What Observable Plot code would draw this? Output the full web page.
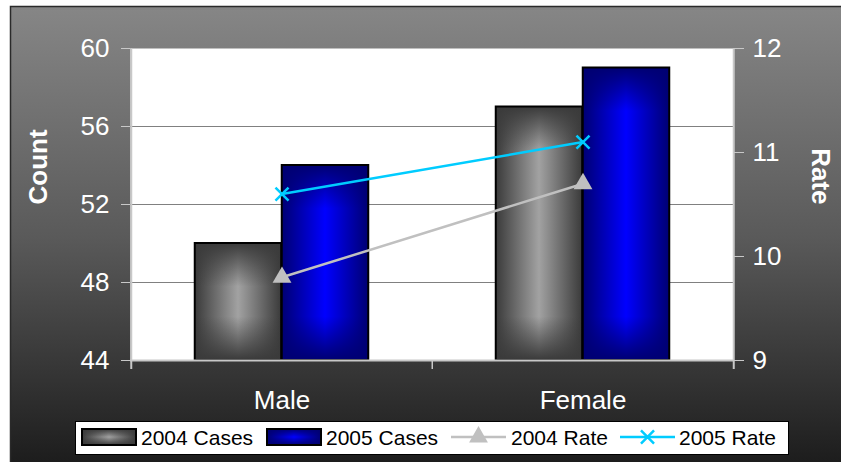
<!DOCTYPE html>
<html><head><meta charset="utf-8">
<script src="https://cdn.jsdelivr.net/npm/d3@7"></script>
<script src="https://cdn.jsdelivr.net/npm/@observablehq/plot@0.6"></script>
<style>
html,body{margin:0;padding:0;background:#fff;}
#wrap{position:relative;width:841px;height:462px;overflow:hidden;font-family:"Liberation Sans",Arial,sans-serif;}
#legend{position:absolute;left:75px;top:421px;width:714px;height:34px;background:#fff;border:1px solid #000;box-sizing:border-box;}
#legend svg{position:absolute;left:0;top:0;}
</style></head><body>
<svg id="defs" width="0" height="0" style="position:absolute"><defs></defs></svg>
<div id="wrap"><div id="chart"></div><div id="legend"></div></div>
<script>
// ---- data ----
const categories = ["Male", "Female"];
const cases2004 = [50, 57];
const cases2005 = [54, 59];
const rate2004 = [9.8, 10.7];
const rate2005 = [10.6, 11.1];
const countTicks = [44, 48, 52, 56, 60];
const rateTicks = [9, 10, 11, 12];
const seriesNames = ["2004 Cases", "2005 Cases", "2004 Rate", "2005 Rate"];
const axisTitles = ["Count", "Rate"];

// ---- layout / style ----
const W = 841, H = 462, mL = 130, mR = 108, mT = 48, mB = 102;
const band = (W - mL - mR) / categories.length;
const barW = 87;
const outer = (band - 2 * barW) / 2;
const font = '"Liberation Sans", Arial, sans-serif';
const axisGray = "#c8c8c8";
const col04 = {edge: "#3a3a3a", center: "#a2a2a2"};
const col05 = {edge: "#000072", center: "#0000ff"};
const rateCol04 = "#c0c0c0", rateCol05 = "#00ccff";

const countDomain = [countTicks[0], countTicks[countTicks.length - 1]];
const rateDomain = [rateTicks[0], rateTicks[rateTicks.length - 1]];
const toCount = r => countDomain[0] + (r - rateDomain[0]) * (countDomain[1] - countDomain[0]) / (rateDomain[1] - rateDomain[0]);
const toRate = c => rateDomain[0] + (c - countDomain[0]) * (rateDomain[1] - rateDomain[0]) / (countDomain[1] - countDomain[0]);

const bars04 = categories.map((c, i) => ({cat: c, v: cases2004[i], id: "v04-" + i}));
const bars05 = categories.map((c, i) => ({cat: c, v: cases2005[i], id: "v05-" + i}));
const pts04 = categories.map((c, i) => ({cat: c, y: toCount(rate2004[i])}));
const pts05 = categories.map((c, i) => ({cat: c, y: toCount(rate2005[i])}));

const chart = Plot.plot({
  width: W, height: H,
  marginLeft: mL, marginRight: mR, marginTop: mT, marginBottom: mB,
  style: {fontFamily: font, background: "transparent", overflow: "visible"},
  x: {type: "band", domain: categories, padding: 0, label: null},
  y: {domain: countDomain, label: null},
  color: {type: "identity"},
  marks: [
    Plot.frame({fill: "url(#bg)", stroke: "#2a2a2a", strokeWidth: 1.5,
      insetLeft: -(mL - 10), insetTop: -(mT - 6), insetRight: -(mR + 3), insetBottom: -(mB + 3)}),
    Plot.frame({fill: "white", stroke: null}),
    Plot.ruleY(countTicks.slice(1, -1), {stroke: "#808080", strokeWidth: 1}),
    Plot.barY(bars04, {x: "cat", y1: countDomain[0], y2: "v", fill: "url(#h04)",
      insetLeft: outer, insetRight: band - outer - barW}),
    Plot.barY(bars04, {x: "cat", y1: countDomain[0], y2: "v", fill: d => `url(#${d.id})`,
      stroke: "black", strokeWidth: 2, insetLeft: outer, insetRight: band - outer - barW}),
    Plot.barY(bars05, {x: "cat", y1: countDomain[0], y2: "v", fill: "url(#h05)",
      insetLeft: outer + barW, insetRight: outer}),
    Plot.barY(bars05, {x: "cat", y1: countDomain[0], y2: "v", fill: d => `url(#${d.id})`,
      stroke: "black", strokeWidth: 2, insetLeft: outer + barW, insetRight: outer}),
    Plot.ruleY([countDomain[0]], {stroke: axisGray, strokeWidth: 2}),
    Plot.ruleX([categories[0]], {dx: -band / 2, stroke: axisGray, strokeWidth: 2, insetBottom: -9}),
    Plot.ruleX([categories[categories.length - 1]], {dx: band / 2, stroke: axisGray, strokeWidth: 2, insetBottom: -9}),
    Plot.ruleX(categories.slice(1), {dx: -band / 2, stroke: axisGray, strokeWidth: 1.5, insetTop: H - mT - mB, insetBottom: -9}),
    Plot.line(pts04, {x: "cat", y: "y", stroke: rateCol04, strokeWidth: 2.5}),
    Plot.dot(pts04, {x: "cat", y: "y", symbol: "triangle", fill: rateCol04, r: 7}),
    Plot.line(pts05, {x: "cat", y: "y", stroke: rateCol05, strokeWidth: 2.5}),
    Plot.dot(pts05, {x: "cat", y: "y", symbol: "times", stroke: rateCol05, strokeWidth: 2.5, r: 6}),
    Plot.axisY({anchor: "left", ticks: countTicks, tickSize: 9, tickPadding: 12, fontSize: 26,
      color: "white", stroke: axisGray, label: null}),
    Plot.axisY({anchor: "right", ticks: rateTicks.map(toCount), tickFormat: d => String(Math.round(toRate(d))),
      tickSize: 10, tickPadding: 9, fontSize: 26, color: "white", stroke: axisGray, label: null}),
    Plot.axisX({tickSize: 0, tickPadding: 30, fontSize: 26, color: "white", label: null}),
    Plot.text([axisTitles[0]], {text: d => d, frameAnchor: "left", dx: -92, rotate: -90,
      fill: "white", fontSize: 26, fontWeight: "bold"}),
    Plot.text([axisTitles[1]], {text: d => d, frameAnchor: "right", dx: 87, rotate: 90,
      fill: "white", fontSize: 26, fontWeight: "bold"})
  ]
});
document.getElementById("chart").appendChild(chart);

// ---- gradients ----
const defs = d3.select("#defs defs");
function linGrad(id, vertical, stops) {
  const g = defs.append("linearGradient").attr("id", id)
    .attr("x1", 0).attr("y1", 0).attr("x2", vertical ? 0 : 1).attr("y2", vertical ? 1 : 0);
  stops.forEach(([o, c, op]) => g.append("stop").attr("offset", o).attr("stop-color", c).attr("stop-opacity", op == null ? 1 : op));
}
linGrad("bg", true, [[0, "#868686"], [0.5, "#5a5a5a"], [1, "#1c1c1c"]]);
linGrad("h04", false, [[0, col04.edge], [0.5, col04.center], [1, col04.edge]]);
linGrad("h05", false, [[0, col05.edge], [0.5, col05.center], [1, col05.edge]]);
const ys = chart.scale("y");
function vGrad(id, h, edge) {
  const f = Math.min(0.5, (barW / 2) / h);
  linGrad(id, true, [[0, edge, 1], [f, edge, 0], [1 - f, edge, 0], [1, edge, 1]]);
}
bars04.forEach(d => vGrad(d.id, ys.apply(countDomain[0]) - ys.apply(d.v), col04.edge));
bars05.forEach(d => vGrad(d.id, ys.apply(countDomain[0]) - ys.apply(d.v), col05.edge));
vGrad("lv04", 16, col04.edge);
vGrad("lv05", 16, col05.edge);

// ---- legend ----
const lg = d3.select("#legend").append("svg").attr("width", 712).attr("height", 32)
  .style("font-family", font);
const swX = [6, 191], lineX = [375, 544], txtX = [65, 250, 435, 603];
[["h04", "lv04"], ["h05", "lv05"]].forEach(([h, v], i) => {
  lg.append("rect").attr("x", swX[i]).attr("y", 7).attr("width", 54).attr("height", 16).attr("fill", `url(#${h})`);
  lg.append("rect").attr("x", swX[i]).attr("y", 7).attr("width", 54).attr("height", 16).attr("fill", `url(#${v})`)
    .attr("stroke", "black").attr("stroke-width", 2);
});
[[rateCol04, d3.symbolTriangle, true], [rateCol05, d3.symbolTimes, false]].forEach(([c, sym, filled], i) => {
  lg.append("line").attr("x1", lineX[i]).attr("x2", lineX[i] + 55).attr("y1", 15).attr("y2", 15)
    .attr("stroke", c).attr("stroke-width", 2.5);
  const p = lg.append("path").attr("transform", `translate(${lineX[i] + 27.5},15)`)
    .attr("d", d3.symbol(sym, Math.PI * (filled ? 49 : 36))());
  if (filled) p.attr("fill", c); else p.attr("fill", "none").attr("stroke", c).attr("stroke-width", 2.5);
});
seriesNames.forEach((s, i) => {
  lg.append("text").attr("x", txtX[i]).attr("y", 23).attr("font-size", 21).attr("fill", "black").text(s);
});
</script>
</body></html>
